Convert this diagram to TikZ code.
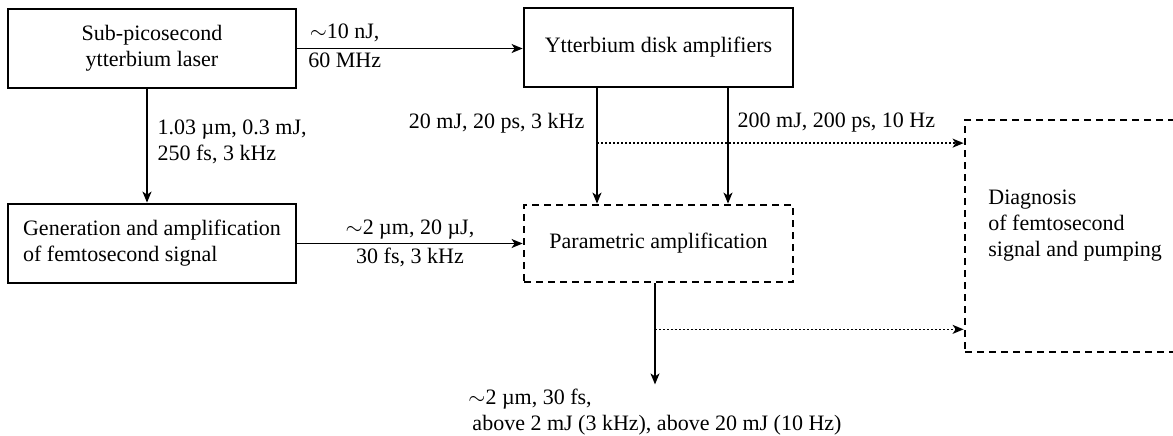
\documentclass[tikz,border=0pt]{standalone}
\usepackage{fontspec}
\setmainfont{Liberation Serif}
\usetikzlibrary{arrows.meta,positioning}

\begin{document}
\begin{tikzpicture}[
  x=0.5pt,y=-0.5pt,
  blk/.style={rectangle,draw,line width=1.4pt,minimum width=144pt,minimum height=39.5pt,inner sep=2pt,font=\fontsize{11}{13}\selectfont},
  dblk/.style={blk,dash pattern=on 3.6pt off 2.4pt},
  lab/.style={inner sep=2pt,font=\fontsize{11}{13}\selectfont},
  beam/.style={draw,line width=0.65pt,-{Stealth[length=5.5pt,width=4.5pt,inset=1.5pt]}},
  probe/.style={beam,line width=0.7pt,dash pattern=on 0.9pt off 1.1pt}
]
\useasboundingbox (0,0) rectangle (1173,435);

% boxes
\node[blk,align=center] (laser) at (152,48.5) {Sub-picosecond\\ytterbium laser};
\node[blk,minimum width=134.5pt] (disk) at (658.5,47.5) {Ytterbium disk amplifiers};
\node[blk,align=left] (gen) at (152,243.5) {Generation and amplification\\of femtosecond signal};
\node[dblk,minimum width=134.5pt,minimum height=38.5pt] (opa) at (658.5,243.5) {Parametric amplification};
\node[dblk,minimum width=117.5pt,minimum height=116pt] (diag) at (1082.5,236) {};
\node[lab,anchor=west,align=left] (diagtxt) at (984,226) {Diagnosis\\of femtosecond\\signal and pumping};

% beams
\draw[beam] (laser.east) -- (laser.east -| disk.west)
  node[lab,above,pos=0.21,yshift=1pt] {$\sim$10 nJ,}
  node[lab,below,pos=0.21] {60 MHz};
\draw[beam] ([xshift=-2.5pt]laser.south) -- ([xshift=-2.5pt]laser.south |- gen.north)
  node[lab,right,align=left,midway,xshift=3pt,yshift=2pt] {1.03 µm, 0.3 mJ,\\250 fs, 3 kHz};
\draw[beam] (gen.east) -- (gen.east -| opa.west)
  node[lab,above,midway] {$\sim$2 µm, 20 µJ,}
  node[lab,below,midway] {30 fs, 3 kHz};
\draw[beam] ([xshift=-30.75pt]disk.south) -- ([xshift=-30.75pt]disk.south |- opa.north)
  coordinate[pos=0.475] (tapA)
  node[lab,left,pos=0.3,xshift=-4pt] {20 mJ, 20 ps, 3 kHz};
\draw[beam] ([xshift=34.75pt]disk.south) -- ([xshift=34.75pt]disk.south |- opa.north)
  node[lab,right,pos=0.3,xshift=2.5pt] {200 mJ, 200 ps, 10 Hz};
\draw[beam] ([xshift=-1.75pt]opa.south) -- ++(0,101) coordinate (out)
  coordinate[pos=0.455] (tapB);

% diagnostics taps
\draw[probe] (tapA) -- (tapA -| diag.west);
\draw[probe] (tapB) -- (tapB -| diag.west);

\node[lab,below,align=left] (outtxt) at (out) {$\sim$2 µm, 30 fs,\\\hspace{2pt}above 2 mJ (3 kHz), above 20 mJ (10 Hz)};
\end{tikzpicture}
\end{document}
